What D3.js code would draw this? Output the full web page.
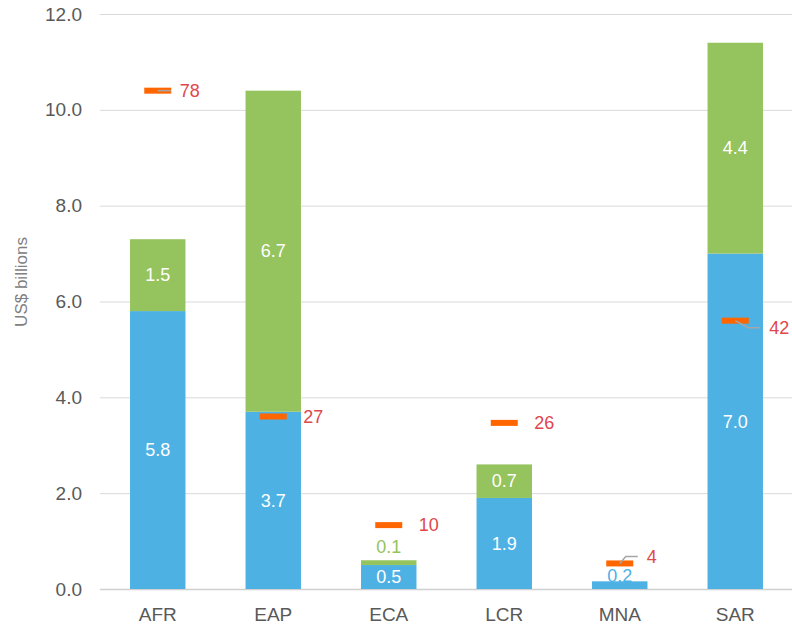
<!DOCTYPE html>
<html>
<head>
<meta charset="utf-8">
<script src="https://cdn.jsdelivr.net/npm/d3@7"></script>
<style>
  body { margin: 0; background: #fff; }
  text { font-family: "Liberation Sans", Arial, sans-serif; }
</style>
</head>
<body>
<div class="svg-container"></div>
<script>
// data
const regions = ["AFR", "EAP", "ECA", "LCR", "MNA", "SAR"];
const blueValues = [5.8, 3.7, 0.5, 1.9, 0.16, 7.0];
const greenValues = [1.5, 6.7, 0.1, 0.7, 0, 4.4];
const markerValues = [78, 27, 10, 26, 4, 42];
const yTicks = [0, 2, 4, 6, 8, 10, 12];

const width = 792, height = 625;
const margin = { top: 14, right: 0, bottom: 36, left: 100 };

const colours = { blue: "#4DB1E4", green: "#95C35D", marker: "#FF6600", markerText: "#E0474C" };

// label nudges for the marker labels (px), leader lines drawn when nudged
const nudge = { AFR: { dx: -8, dy: 0 }, MNA: { dx: -3, dy: -7 }, SAR: { dx: 4, dy: 7 } };

const rows = regions.map((r, i) => ({ region: r, blue: blueValues[i], green: greenValues[i], marker: markerValues[i] }));

const svg = d3.select(".svg-container")
  .append("svg")
  .attr("width", width)
  .attr("height", height);

const xScale = d3.scaleBand()
  .domain(regions)
  .range([margin.left, width + 1])
  .paddingInner(0.52)
  .paddingOuter(0.26);

const yScale = d3.scaleLinear()
  .domain([0, 12])
  .range([height - margin.bottom, margin.top]);

// hidden secondary axis for the orange markers
const y2Scale = d3.scaleLinear()
  .domain([0, 90])
  .range([height - margin.bottom, margin.top]);

// gridlines
svg.append("g")
  .selectAll("line")
  .data(yTicks)
  .enter()
  .append("line")
  .attr("x1", margin.left)
  .attr("x2", width)
  .attr("y1", d => yScale(d) + 0.5)
  .attr("y2", d => yScale(d) + 0.5)
  .style("stroke", d => d === 0 ? "#d0d0d0" : "#d9d9d9")
  .style("stroke-width", d => d === 0 ? 1.5 : 1);

// y axis labels
const yAxis = d3.axisLeft(yScale)
  .tickValues(yTicks)
  .tickFormat(d3.format(".1f"))
  .tickSize(0)
  .tickPadding(0);

svg.append("g")
  .attr("transform", "translate(82,0)")
  .call(yAxis)
  .call(g => g.select(".domain").remove())
  .selectAll("text")
  .style("font-size", "19px")
  .style("fill", "#595959")
  .attr("font-family", null);

// x axis labels
const xAxis = d3.axisBottom(xScale).tickSize(0).tickPadding(0);
svg.append("g")
  .attr("transform", "translate(0," + (height - margin.bottom + 18) + ")")
  .call(xAxis)
  .call(g => g.select(".domain").remove())
  .selectAll("text")
  .style("font-size", "19px")
  .style("fill", "#595959")
  .attr("font-family", null);

// y title
svg.append("text")
  .attr("transform", "translate(27," + 282 + ") rotate(-90)")
  .attr("text-anchor", "middle")
  .style("font-size", "17px")
  .style("fill", "#808080")
  .text("US$ billions");

// stacked bars
const stack = d3.stack().keys(["blue", "green"]);
const series = stack(rows);

const layers = svg.append("g")
  .selectAll("g")
  .data(series)
  .enter()
  .append("g")
  .style("fill", d => colours[d.key]);

layers.selectAll("rect")
  .data(d => d)
  .enter()
  .append("rect")
  .attr("x", d => xScale(d.data.region))
  .attr("width", xScale.bandwidth())
  .attr("y", d => yScale(d[1]))
  .attr("height", d => yScale(d[0]) - yScale(d[1]));

// segment labels
series.forEach(s => {
  svg.append("g")
    .selectAll("text")
    .data(s.filter(d => d[1] - d[0] > 0))
    .enter()
    .append("text")
    .attr("x", d => xScale(d.data.region) + xScale.bandwidth() / 2)
    .attr("y", d => {
      const h = yScale(d[0]) - yScale(d[1]);
      if (h >= 18) return (yScale(d[0]) + yScale(d[1])) / 2;
      return yScale(d[1]) - (s.key === "green" ? 14 : 6);
    })
    .attr("dy", "0.35em")
    .attr("text-anchor", "middle")
    .style("font-size", "18px")
    .style("fill", d => (yScale(d[0]) - yScale(d[1]) >= 18) ? "#fff" : colours[s.key])
    .text(d => d3.format(".1f")(d[1] - d[0]));
});

// orange markers
const mW = 27, mH = 6;
svg.append("g")
  .selectAll("rect")
  .data(rows)
  .enter()
  .append("rect")
  .attr("x", d => xScale(d.region) + xScale.bandwidth() / 2 - mW / 2)
  .attr("y", d => y2Scale(d.marker) - mH / 2)
  .attr("width", mW)
  .attr("height", mH)
  .style("fill", colours.marker);

function labelPos(d) {
  const n = nudge[d.region] || { dx: 0, dy: 0 };
  const cx = xScale(d.region) + xScale.bandwidth() / 2;
  return { cx: cx, my: y2Scale(d.marker), lx: cx + 30 + n.dx, ly: y2Scale(d.marker) + n.dy };
}

// leader lines
svg.append("g")
  .selectAll("path")
  .data(rows.filter(d => nudge[d.region]))
  .enter()
  .append("path")
  .attr("d", d => {
    const p = labelPos(d);
    return d3.line()([[p.cx, p.my], [p.lx - 21, p.ly], [p.lx - 9, p.ly]]);
  })
  .style("fill", "none")
  .style("stroke", "#a6a6a6")
  .style("stroke-width", 1.5);

// marker labels
svg.append("g")
  .selectAll("text")
  .data(rows)
  .enter()
  .append("text")
  .attr("x", d => labelPos(d).lx)
  .attr("y", d => labelPos(d).ly)
  .attr("dy", "0.35em")
  .style("font-size", "18px")
  .style("fill", colours.markerText)
  .text(d => d.marker);
</script>
</body>
</html>
